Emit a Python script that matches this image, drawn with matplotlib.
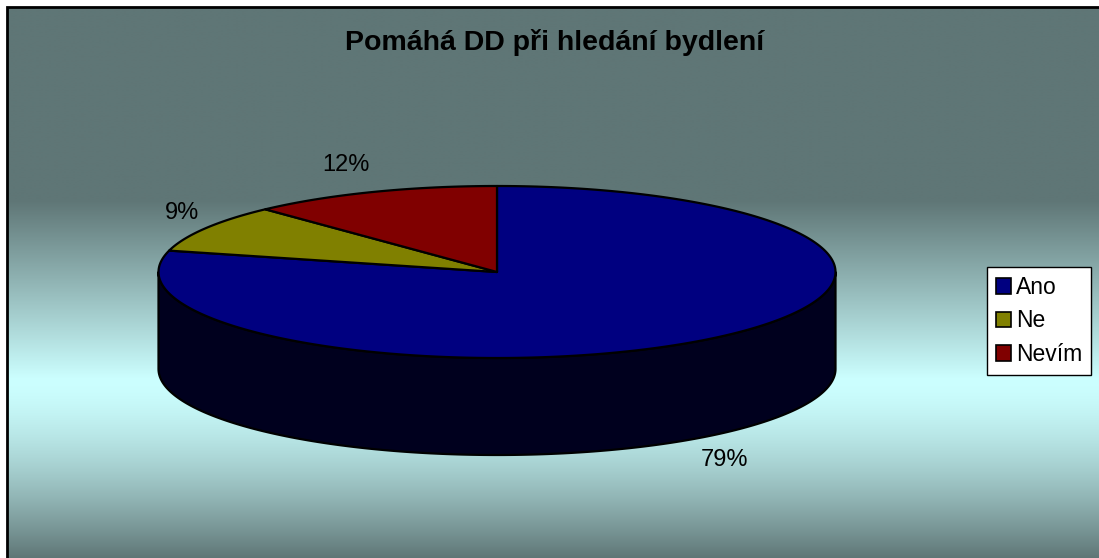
import numpy as np
import matplotlib
matplotlib.use("Agg")
import matplotlib.pyplot as plt
from matplotlib.patches import Polygon, Patch

# ---- data ----
title = "Pomáhá DD při hledání bydlení"
categories = ["Ano", "Ne", "Nevím"]
values = [79, 9, 12]
labels = ["79%", "9%", "12%"]

# ---- styles ----
colors = ["#000080", "#808000", "#800000"]
side_colors = ["#00001E", "#1E1E00", "#1E0000"]
dark = np.array([95, 118, 118]) / 255
light = np.array([204, 255, 255]) / 255

W, H = 1099, 558
fig = plt.figure(figsize=(W / 100, H / 100), dpi=100)
fig.patch.set_facecolor("white")
ax = fig.add_axes([0, 0, 1, 1])
ax.set_xlim(0, W)
ax.set_ylim(H, 0)
ax.axis("off")

# background gradient (chart area)
ys = np.arange(H) + 0.5
center, half = 377.0, 181.0
d = np.clip(np.abs(ys - center) / half, 0, 1)
d = np.where(ys > center, d ** 1.5, d)
grad = light[None, :] + (dark - light)[None, :] * d[:, None]
img = np.repeat(grad[:, None, :], 2, axis=1)
ax.imshow(img, extent=(7, W + 5, H, 7), aspect="auto", zorder=0, interpolation="bilinear")
ax.plot([7, 7, W + 5], [H + 5, 7, 7], color="black", lw=2, zorder=1, solid_joinstyle="miter")

# pie geometry (pixels)
cx, cy, rx, ry, depth = 497.0, 272.0, 338.5, 86.0, 97.0


def ell(th, dy=0.0, sx=rx, sy=ry):
    t = np.radians(th)
    return cx + sx * np.cos(t), cy - sy * np.sin(t) + dy


fr = np.array(values, dtype=float) / sum(values)
starts = 90 - 360 * np.concatenate([[0], np.cumsum(fr)[:-1]])
ends = starts - 360 * fr

# side faces (front visible part)
for i in range(len(values)):
    a0, a1 = ends[i], starts[i]
    for k in range(-2, 2):
        lo, hi = -180 + 360 * k, 0 + 360 * k
        s, e = max(a0, lo), min(a1, hi)
        if e > s:
            th = np.linspace(s, e, 200)
            x, y = ell(th)
            xb, yb = ell(th[::-1], depth)
            pts = np.column_stack([np.concatenate([x, xb]), np.concatenate([y, yb])])
            ax.add_patch(Polygon(pts, closed=True, facecolor=side_colors[i],
                                 edgecolor="black", lw=1.6, zorder=2, joinstyle="round"))

# top faces
for i in range(len(values)):
    th = np.linspace(starts[i], ends[i], 300)
    x, y = ell(th)
    pts = np.column_stack([np.concatenate([[cx], x]), np.concatenate([[cy], y])])
    ax.add_patch(Polygon(pts, closed=True, facecolor=colors[i], edgecolor="black",
                         lw=1.6, zorder=3, joinstyle="round"))

# labels
for i in range(len(values)):
    mid = (starts[i] + ends[i]) / 2
    c = np.cos(np.radians(mid))
    lx, ly = ell(mid, 0, 346 if c < 0 else 332, 115)
    if np.sin(np.radians(mid)) < 0:
        ly += depth
    ha = "right" if c < 0 else "left"
    ax.text(lx, ly, labels[i], fontsize=17, family="Liberation Sans", ha=ha,
            va="center", color="black", zorder=4)

ax.text(555, 43, title, fontsize=20.5, fontweight="bold", family="Liberation Sans",
        ha="center", va="center", zorder=4)

handles = [Patch(facecolor=c, edgecolor="black", lw=1.2) for c in colors]
leg = fig.legend(handles, categories, loc="upper left",
                 bbox_to_anchor=(987 / W, 1 - 267 / H), bbox_transform=fig.transFigure,
                 borderaxespad=0, fancybox=False, shadow=False, framealpha=1,
                 edgecolor="black", facecolor="white",
                 prop={"family": "Liberation Sans", "size": 16.5},
                 handlelength=0.68, handleheight=0.68, handletextpad=0.2,
                 labelspacing=0.47, borderpad=0.38)
leg.get_frame().set_linewidth(1.0)

fig.savefig("out.png", dpi=100)
